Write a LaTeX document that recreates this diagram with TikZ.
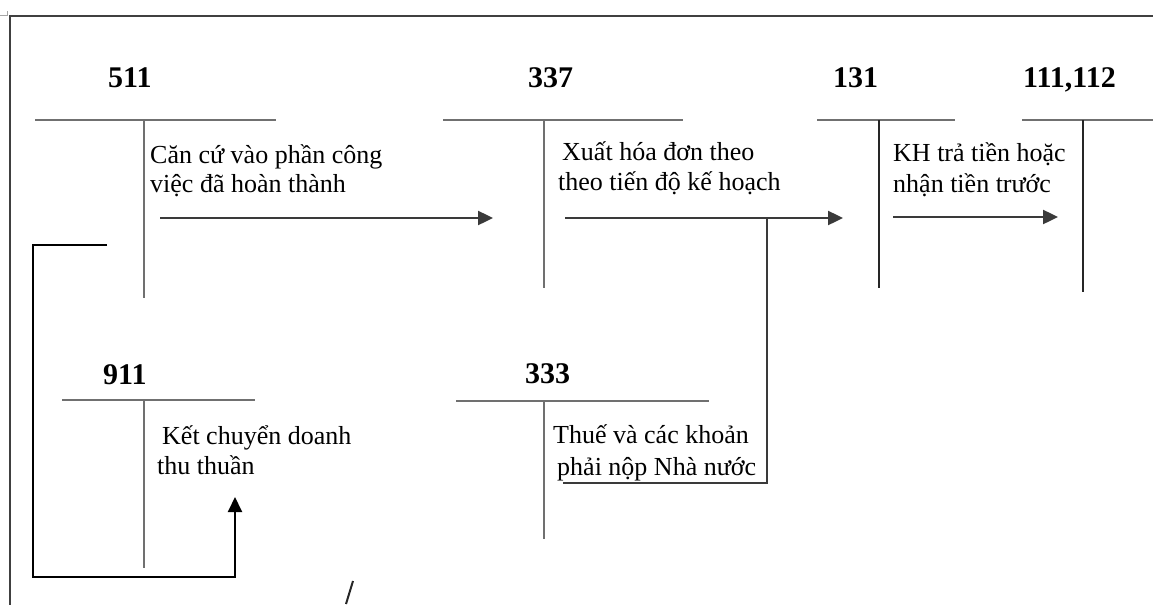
\documentclass[tikz,border=0pt]{standalone}
\usepackage{fontspec}
\setmainfont{Liberation Serif}
\usetikzlibrary{arrows.meta}
\definecolor{tgray}{HTML}{707070}
\definecolor{fgray}{HTML}{3A3A3A}
\begin{document}
\begin{tikzpicture}[x=1pt,y=-1pt,
  tline/.style={draw=tgray,line width=2.8pt},
  flow/.style={draw=fgray,line width=2.4pt,-{Triangle[length=15pt,width=14pt]}},
  branch/.style={draw=fgray,line width=2.4pt},
  ret/.style={draw=black,line width=2pt},
  retarrow/.style={ret,-{Triangle[length=15pt,width=14pt]}},
  dark/.style={draw=black!85,line width=2.2pt},
  acct/.style={font=\bfseries\fontsize{30}{36}\selectfont,anchor=base west,inner sep=0pt},
  txt/.style={font=\fontsize{26}{30}\selectfont,anchor=base west,inner sep=0pt}]
\path[use as bounding box] (0,0) rectangle (1153,605);
% frame
\coordinate (frTR) at (1153,16);
\coordinate (frTL) at (10,16);
\coordinate (frBL) at (10,605);
\draw[draw=black!75,line width=2.4pt] (frTR) -- (frTL) -- (frBL);
\coordinate (cm1) at (0,15);
\coordinate (cm2) at (7,15);
\coordinate (cm3) at (7,11);
\draw[draw=black!35,line width=0.7pt] (cm1) -- (cm2) -- (cm3);

% ---- T-account 511
\coordinate (a511L) at (35,120);
\coordinate (a511R) at (276,120);
\coordinate (a511T) at (144,120);
\coordinate (a511B) at (144,298);
\draw[tline] (a511L) -- (a511R);
\draw[tline] (a511T) -- (a511B);
\node[acct] (l511) at (108,87) {511};
\node[txt] (t511a) at (150,163) {Căn cứ vào phần công};
\node[txt] (t511b) at (150,192) {việc đã hoàn thành};

% ---- T-account 337
\coordinate (a337L) at (443,120);
\coordinate (a337R) at (683,120);
\coordinate (a337T) at (544,120);
\coordinate (a337B) at (544,288);
\draw[tline] (a337L) -- (a337R);
\draw[tline] (a337T) -- (a337B);
\node[acct] (l337) at (528,87) {337};
\node[txt] (t337a) at (562,160) {Xuất hóa đơn theo};
\node[txt] (t337b) at (558,190) {theo tiến độ kế hoạch};

% ---- T-account 131
\coordinate (a131L) at (817,120);
\coordinate (a131R) at (955,120);
\coordinate (a131T) at (879,120);
\coordinate (a131B) at (879,288);
\draw[tline] (a131L) -- (a131R);
\draw[dark] (a131T) -- (a131B);
\node[acct] (l131) at (833,87) {131};
\node[txt] (t131a) at (893,161) {KH trả tiền hoặc};
\node[txt] (t131b) at (893,192) {nhận tiền trước};

% ---- T-account 111,112
\coordinate (a111L) at (1022,120);
\coordinate (a111R) at (1153,120);
\coordinate (a111T) at (1083,120);
\coordinate (a111B) at (1083,292);
\draw[tline] (a111L) -- (a111R);
\draw[dark] (a111T) -- (a111B);
\node[acct] (l111) at (1023,87) {111,112};

% ---- T-account 911
\coordinate (a911L) at (62,400);
\coordinate (a911R) at (255,400);
\coordinate (a911T) at (144,400);
\coordinate (a911B) at (144,568);
\draw[tline] (a911L) -- (a911R);
\draw[tline] (a911T) -- (a911B);
\node[acct] (l911) at (103,384) {911};
\node[txt] (t911a) at (162,444) {Kết chuyển doanh};
\node[txt] (t911b) at (157,474) {thu thuần};

% ---- T-account 333
\coordinate (a333L) at (456,401);
\coordinate (a333R) at (709,401);
\coordinate (a333T) at (544,401);
\coordinate (a333B) at (544,539);
\draw[tline] (a333L) -- (a333R);
\draw[tline] (a333T) -- (a333B);
\node[acct] (l333) at (525,383) {333};
\node[txt] (t333a) at (553,443) {Thuế và các khoản};
\node[txt] (t333b) at (557,475) {phải nộp Nhà nước};

% ---- flows
\coordinate (f1s) at (160,218);
\coordinate (f1e) at (493,218);
\draw[flow] (f1s) -- (f1e);

\coordinate (f2s) at (565,218);
\coordinate (f2e) at (843,218);
\draw[flow] (f2s) -- (f2e);
\coordinate (br1) at (767,218);
\coordinate (br2) at (767,483);
\coordinate (br3) at (563,483);
\draw[branch] (br1) -- (br2) -- (br3);

\coordinate (f3s) at (893,217);
\coordinate (f3e) at (1058,217);
\draw[flow] (f3s) -- (f3e);

% ---- return path 511 -> 911
\coordinate (r1) at (107,245);
\coordinate (r2) at (33,245);
\coordinate (r3) at (33,577);
\coordinate (r4) at (235,577);
\coordinate (r5) at (235,497);
\draw[retarrow] (r1) -- (r2) -- (r3) -- (r4) -- (r5);

% ---- stray mark
\coordinate (s1) at (346,604);
\coordinate (s2) at (353,581);
\draw[draw=black!85,line width=2pt] (s1) -- (s2);
\end{tikzpicture}
\end{document}
